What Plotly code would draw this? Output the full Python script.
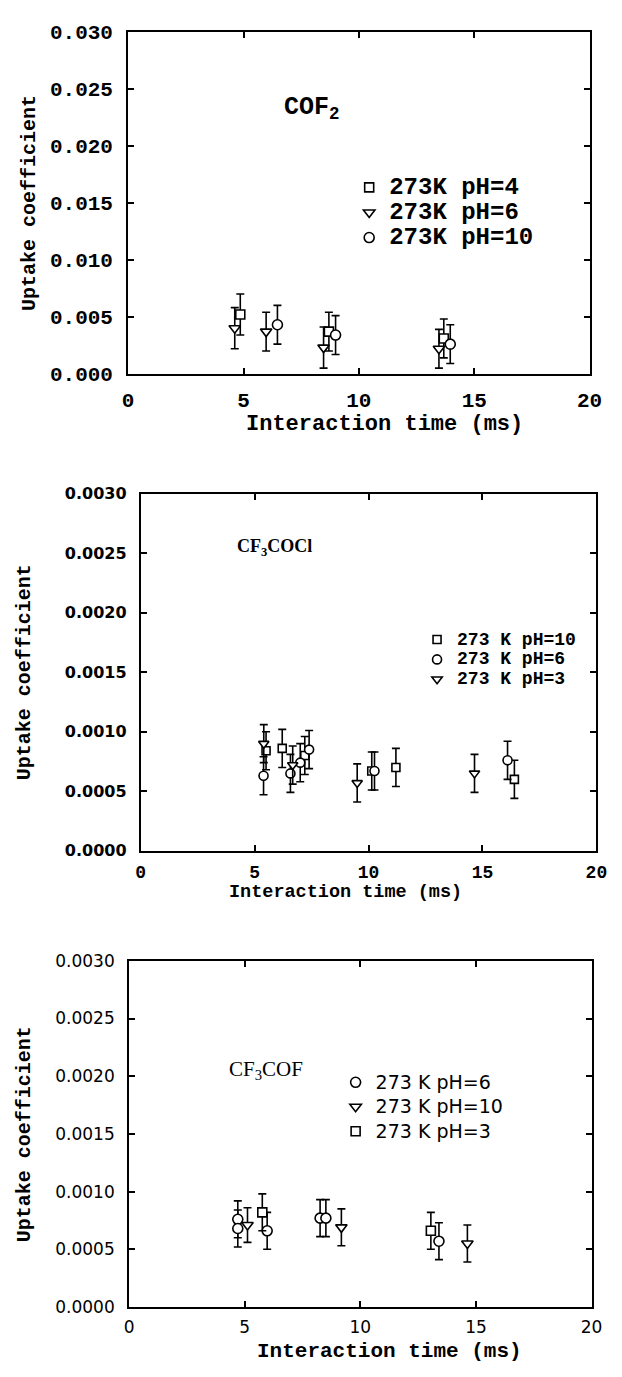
import plotly.graph_objects as go

W, H = 622, 1377

# ---------------- data ----------------
# Panel 1: COF2
cof2_ph4_x = [4.86, 8.70, 13.68]
cof2_ph4_y = [0.0052, 0.0037, 0.0031]
cof2_ph4_err = [0.0018, 0.0017, 0.0017]
cof2_ph6_x = [4.62, 5.98, 8.47, 13.47]
cof2_ph6_y = [0.0040, 0.0037, 0.0023, 0.0022]
cof2_ph6_err = [0.0018, 0.0017, 0.0018, 0.0017]
cof2_ph10_x = [6.47, 8.99, 13.96]
cof2_ph10_y = [0.0043, 0.0034, 0.0026]
cof2_ph10_err = [0.0017, 0.0017, 0.0017]

# Panel 2: CF3COCl
cocl_ph10_x = [5.50, 6.21, 7.20, 10.14, 11.20, 16.40]
cocl_ph10_y = [0.00084, 0.00086, 0.00080, 0.00067, 0.00070, 0.00060]
cocl_ph10_err = [0.00016, 0.00016, 0.00016, 0.00016, 0.00016, 0.00016]
cocl_ph6_x = [5.39, 6.57, 7.00, 7.39, 10.26, 16.10]
cocl_ph6_y = [0.00063, 0.00065, 0.00074, 0.00085, 0.00067, 0.00076]
cocl_ph6_err = [0.00016, 0.00016, 0.00016, 0.00016, 0.00016, 0.00016]
cocl_ph3_x = [5.40, 6.67, 9.50, 14.65]
cocl_ph3_y = [0.00090, 0.00072, 0.00057, 0.00065]
cocl_ph3_err = [0.00016, 0.00016, 0.00016, 0.00016]

# Panel 3: CF3COF
cof_ph6_x = [4.70, 4.70, 5.97, 8.26, 8.51, 13.40]
cof_ph6_y = [0.00076, 0.00068, 0.00066, 0.00077, 0.00077, 0.00057]
cof_ph6_err = [0.00016, 0.00016, 0.00016, 0.00016, 0.00016, 0.00016]
cof_ph10_x = [5.12, 9.18, 14.63]
cof_ph10_y = [0.00071, 0.00069, 0.00055]
cof_ph10_err = [0.00015, 0.00016, 0.00016]
cof_ph3_x = [5.76, 13.05]
cof_ph3_y = [0.00082, 0.00066]
cof_ph3_err = [0.00016, 0.00016]

x_ticks = [0, 5, 10, 15, 20]
y1_ticks = [0.000, 0.005, 0.010, 0.015, 0.020, 0.025, 0.030]
y23_ticks = [0.0000, 0.0005, 0.0010, 0.0015, 0.0020, 0.0025, 0.0030]

# ---------------- layout helpers ----------------
def fx(p):
    return p / W

def fy(p):
    return 1 - p / H

MONO = "Liberation Mono"
SANS = "DejaVu Sans"
SERIF = "Liberation Serif"

fig = go.Figure()

def add(x, y, err, name, symbol, size, xa, ya, legend, span):
    fig.add_trace(go.Scatter(
        x=x, y=y, mode="markers", name=f'<span style="{span}">{name}</span>',
        xaxis=xa, yaxis=ya, legend=legend,
        marker=dict(symbol=symbol, size=size, color="white",
                    line=dict(color="black", width=1.6)),
        error_y=dict(type="data", array=err, visible=True, color="black",
                     thickness=1.6, width=4),
    ))

s1 = "font-size:24px"
add(cof2_ph4_x, cof2_ph4_y, cof2_ph4_err, "273K pH=4", "square", 9, "x", "y", "legend", s1)
add(cof2_ph6_x, cof2_ph6_y, cof2_ph6_err, "273K pH=6", "triangle-down", 10, "x", "y", "legend", s1)
add(cof2_ph10_x, cof2_ph10_y, cof2_ph10_err, "273K pH=10", "circle", 10, "x", "y", "legend", s1)

s2 = "font-size:18px"
add(cocl_ph10_x, cocl_ph10_y, cocl_ph10_err, "273 K pH=10", "square", 8, "x2", "y2", "legend2", s2)
add(cocl_ph6_x, cocl_ph6_y, cocl_ph6_err, "273 K pH=6", "circle", 9, "x2", "y2", "legend2", s2)
add(cocl_ph3_x, cocl_ph3_y, cocl_ph3_err, "273 K pH=3", "triangle-down", 9, "x2", "y2", "legend2", s2)

s3 = "font-size:19px"
add(cof_ph6_x, cof_ph6_y, cof_ph6_err, "273 K pH=6", "circle", 10, "x3", "y3", "legend3", s3)
add(cof_ph10_x, cof_ph10_y, cof_ph10_err, "273 K pH=10", "triangle-down", 10, "x3", "y3", "legend3", s3)
add(cof_ph3_x, cof_ph3_y, cof_ph3_err, "273 K pH=3", "square", 9, "x3", "y3", "legend3", s3)

def xaxis(dom, anchor, font, standoff):
    return dict(domain=dom, anchor=anchor, range=[0, 20], tickvals=x_ticks,
                ticktext=[str(v) for v in x_ticks],
                showline=True, linecolor="black", linewidth=2, mirror="ticks",
                ticks="inside", ticklen=6, tickwidth=1.5, tickcolor="black",
                showgrid=False, zeroline=False, tickfont=font,
                ticklabelstandoff=standoff)

def yaxis(dom, anchor, ticks, fmt, font, standoff):
    return dict(domain=dom, anchor=anchor, range=[ticks[0], ticks[-1]],
                tickvals=ticks, ticktext=[fmt.format(v) for v in ticks],
                showline=True, linecolor="black", linewidth=2, mirror="ticks",
                ticks="inside", ticklen=6, tickwidth=1.5, tickcolor="black",
                showgrid=False, zeroline=False, tickfont=font,
                ticklabelstandoff=standoff)

f1 = dict(family=MONO, size=21, color="black", weight="bold")
f2x = dict(family=MONO, size=18, color="black", weight="bold")
f2y = dict(family=SANS, size=16, color="black", weight="bold")
f3 = dict(family=SANS, size=17, color="black")

P1 = (126, 602, 22, 370)
P2 = (139, 609, 492, 855)
P3 = (127, 604, 967, 1319)

def xd(P):
    return [fx(P[0]), fx(P[1])]

def yd(P):
    return [fy(P[3]), fy(P[2])]

fig.update_layout(
    width=W, height=H, margin=dict(l=0, r=0, t=0, b=0),
    paper_bgcolor="white", plot_bgcolor="white",
    xaxis=xaxis(xd(P1), "y", f1, 6),
    yaxis=yaxis(yd(P1), "x", y1_ticks, "{:.3f}", f1, 9),
    xaxis2=xaxis(xd(P2), "y2", f2x, 4),
    yaxis2=yaxis(yd(P2), "x2", y23_ticks, "{:.4f}", f2y, 9),
    xaxis3=xaxis(xd(P3), "y3", f3, 4),
    yaxis3=yaxis(yd(P3), "x3", y23_ticks, "{:.4f}", f3, 9),
    legend=dict(x=fx(354), y=fy(162.5), xanchor="left", yanchor="top",
                bgcolor="rgba(0,0,0,0)", itemwidth=30,
                font=dict(family=MONO, size=17, color="black", weight="bold")),
    legend2=dict(x=fx(424), y=fy(625), xanchor="left", yanchor="top",
                 bgcolor="rgba(0,0,0,0)", itemwidth=30,
                 font=dict(family=MONO, size=13, color="black", weight="bold")),
    legend3=dict(x=fx(340), y=fy(1073), xanchor="left", yanchor="top",
                 bgcolor="rgba(0,0,0,0)", itemwidth=30,
                 font=dict(family=SANS, size=16.5, color="black")),
)

ann = []
def text(t, x, y, font, xanchor="center", angle=0):
    ann.append(dict(text=t, x=fx(x), y=fy(y), xref="paper", yref="paper",
                    xanchor=xanchor, yanchor="middle", showarrow=False,
                    font=font, textangle=angle))

tf1 = dict(family=MONO, size=22, color="black", weight="bold")
tf2 = dict(family=MONO, size=18.5, color="black", weight="bold")
tf3 = dict(family=MONO, size=21, color="black", weight="bold")
yt = dict(family=MONO, size=20, color="black", weight="bold")

text("Interaction time (ms)", 390, 422, tf1)
text("Interaction time (ms)", 350, 897, tf2)
text("Interaction time (ms)", 396, 1364, tf3)
text("Uptake coefficient", 24, 196, yt, angle=-90)
text("Uptake coefficient", 19, 673, yt, angle=-90)
text("Uptake coefficient", 19, 1143, yt, angle=-90)

text("COF<sub>2</sub>", 285, 100, dict(family=MONO, size=25, color="black", weight="bold"), xanchor="left")
text("CF<sub>3</sub>COCl", 236, 547, dict(family=SERIF, size=18, color="black", weight="bold"), xanchor="left")
text("CF<sub>3</sub>COF", 228, 1078, dict(family=SERIF, size=21, color="black"), xanchor="left")

fig.update_layout(annotations=ann)

fig.write_html("out.html")
